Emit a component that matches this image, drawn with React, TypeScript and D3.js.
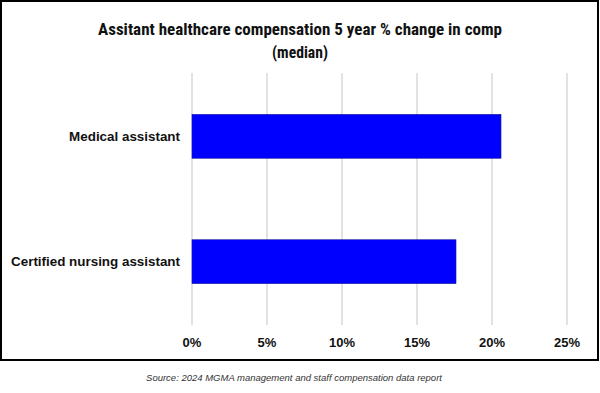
import * as d3 from 'd3';
import React from 'react';

// chart data
const categories = ['Medical assistant', 'Certified nursing assistant'];
const changeValues = [20.6, 17.6];
const tickValues = [0, 5, 10, 15, 20, 25];

const titleLines = ['Assitant healthcare compensation 5 year % change in comp', '(median)'];
const sourceText = 'Source: 2024 MGMA management and staff compensation data report';

const App = () => {
  const width = 600;
  const height = 393;

  // plot area
  const plot = { left: 192, right: 567, top: 73, bottom: 325 };

  const x = d3.scaleLinear().domain([0, 25]).range([plot.left, plot.right]);
  const y = d3
    .scaleBand()
    .domain(categories)
    .range([plot.top, plot.bottom])
    .paddingInner(0.65)
    .paddingOuter(0.33);

  const bold = 'Arial, "Liberation Sans", sans-serif';

  return (
    <svg
      width={width}
      height={height}
      style={{ position: 'absolute', left: 0, top: 0, background: '#fff' }}
    >
      {/* border */}
      <rect x={1} y={1} width={597} height={359} fill="#fff" stroke="#000" strokeWidth={2} />

      {/* title */}
      {titleLines.map((t, i) => (
        <text
          key={t}
          x={300}
          y={35 + i * 23}
          textAnchor="middle"
          fontFamily='"Roboto Condensed", "Liberation Sans Narrow", Roboto, sans-serif'
          fontWeight="bold"
          fontSize={16.5}
          fill="#111"
          textLength={i === 0 ? 404 : 56}
          lengthAdjust="spacingAndGlyphs"
        >
          {t}
        </text>
      ))}

      {/* gridlines */}
      {tickValues.map((v) => (
        <line
          key={v}
          x1={x(v)}
          x2={x(v)}
          y1={plot.top}
          y2={plot.bottom}
          stroke="#d9d9d9"
          strokeWidth={1.5}
        />
      ))}

      {/* bars */}
      {categories.map((c, i) => (
        <rect
          key={c}
          x={x(0)}
          y={y(c)}
          width={x(changeValues[i]) - x(0)}
          height={y.bandwidth()}
          fill="#0000ff"
          stroke="#1a1a9a"
          strokeWidth={0.6}
        />
      ))}

      {/* category labels */}
      {categories.map((c) => (
        <text
          key={c}
          x={180}
          y={(y(c) ?? 0) + y.bandwidth() / 2}
          dy="0.35em"
          textAnchor="end"
          fontFamily={bold}
          fontWeight="bold"
          fontSize={13.4}
          fill="#111"
        >
          {c}
        </text>
      ))}

      {/* tick labels */}
      {tickValues.map((v) => (
        <text
          key={v}
          x={x(v)}
          y={342}
          dy="0.35em"
          textAnchor="middle"
          fontFamily={bold}
          fontWeight="bold"
          fontSize={13}
          fill="#111"
        >
          {`${v}%`}
        </text>
      ))}

      {/* source */}
      <text
        x={294}
        y={378}
        dy="0.35em"
        textAnchor="middle"
        fontFamily={bold}
        fontStyle="italic"
        fontSize={9.5}
        fill="#333"
      >
        {sourceText}
      </text>
    </svg>
  );
};

export default App;
